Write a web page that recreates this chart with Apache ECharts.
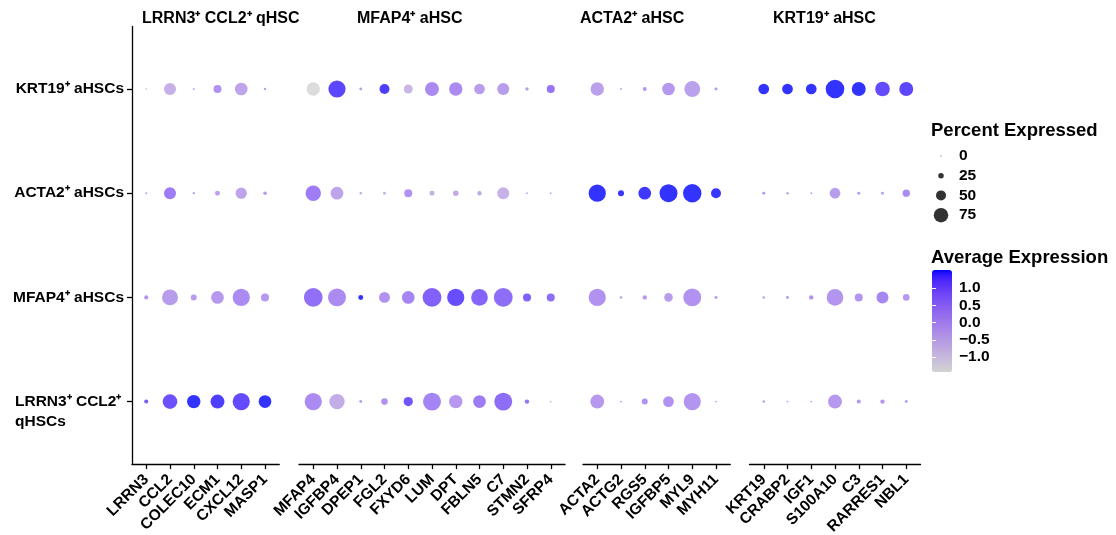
<!DOCTYPE html>
<html><head><meta charset="utf-8">
<script src="https://cdn.jsdelivr.net/npm/echarts@6/dist/echarts.min.js"></script>
<style>html,body{margin:0;padding:0;background:#fff}#c{width:1116px;height:535px}</style>
</head><body><div id="c"></div>
<script>
// ---------- DATA ----------
const panelTitles = ['LRRN3⁺ CCL2⁺ qHSC', 'MFAP4⁺ aHSC', 'ACTA2⁺ aHSC', 'KRT19⁺ aHSC'];
const genesQ = ['LRRN3', 'CCL2', 'COLEC10', 'ECM1', 'CXCL12', 'MASP1'];
const genesM = ['MFAP4', 'IGFBP4', 'DPEP1', 'FGL2', 'FXYD6', 'LUM', 'DPT', 'FBLN5', 'C7', 'STMN2', 'SFRP4'];
const genesA = ['ACTA2', 'ACTG2', 'RGS5', 'IGFBP5', 'MYL9', 'MYH11'];
const genesK = ['KRT19', 'CRABP2', 'IGF1', 'S100A10', 'C3', 'RARRES1', 'NBL1'];
// rows, bottom to top
const rowNames = ['LRRN3⁺ CCL2⁺ qHSCs', 'MFAP4⁺ aHSCs', 'ACTA2⁺ aHSCs', 'KRT19⁺ aHSCs'];
const sizeBreaks = ['0', '25', '50', '75'];
const colorBreaks = [-1.0, -0.5, 0.0, 0.5, 1.0];
const avgMin = -1.43, avgMax = 1.52;

// percent expressed, genes in order Q, M, A, K
const pctLRRN3 = [17, 76, 69, 72, 90, 65,  90, 80, 11, 31, 46, 94, 69, 65, 94, 19, 5,  72, 5, 28, 54, 90, 5,  8, 5, 5, 72, 17, 19, 11];
const pctMFAP4 = [17, 83, 28, 65, 90, 39,  98, 94, 22, 55, 65, 99, 90, 87, 99, 39, 39,  90, 8, 19, 42, 94, 11,  8, 11, 19, 87, 39, 61, 31];
const pctACTA2 = [5, 61, 7, 22, 57, 14,  80, 65, 8, 11, 39, 22, 25, 19, 61, 5, 5,  90, 28, 65, 94, 97, 50,  11, 8, 5, 54, 11, 11, 35];
const pctKRT19 = [3, 61, 5, 39, 65, 8,  69, 90, 11, 50, 44, 72, 69, 54, 61, 14, 39,  69, 5, 17, 65, 83, 11,  54, 54, 54, 98, 72, 76, 72];
// average expression (scaled)
const avgLRRN3 = [1.08, 1.23, 1.52, 1.43, 1.31, 1.52,  0.19, -0.49, -0.25, 0.05, 1.17, 0.34, -0.10, 0.49, 0.78, 0.64, -0.55,  -0.10, -0.10, 0.05, 0.05, -0.01, -0.25,  -0.10, -0.25, -0.25, -0.10, -0.10, -0.10, -0.25];
const avgMFAP4 = [0.05, -0.19, -0.19, -0.10, 0.19, -0.10,  0.72, 0.19, 1.52, 0.05, 0.34, 0.99, 1.28, 0.93, 0.78, 0.99, 0.78,  0.05, -0.10, -0.10, -0.19, 0.05, -0.10,  -0.10, -0.10, 0.05, -0.01, -0.01, 0.28, -0.10];
const avgACTA2 = [-0.10, 0.49, -0.10, -0.25, -0.31, -0.10,  0.49, -0.31, -0.40, -0.55, 0.05, -0.55, -0.40, -0.40, -0.60, -0.40, -0.40,  1.52, 1.50, 1.48, 1.52, 1.52, 1.50,  -0.10, -0.25, -0.25, -0.19, -0.10, -0.19, 0.19];
const avgKRT19 = [-0.25, -0.55, -0.25, 0.05, -0.31, -0.25,  -1.43, 1.37, -0.25, 1.43, -0.69, 0.19, 0.19, -0.19, -0.19, -0.25, 0.64,  -0.25, -0.25, -0.10, -0.10, -0.25, -0.10,  1.52, 1.52, 1.52, 1.52, 1.52, 1.31, 1.37];

// ---------- COLOR SCALE (Lab interpolation lightgrey -> blue, like ggplot) ----------
function hex2rgb(h){return [1,3,5].map(i=>parseInt(h.substr(i,2),16));}
function s2l(c){c/=255;return c<=0.04045?c/12.92:Math.pow((c+0.055)/1.055,2.4);}
function l2s(c){let v=c<=0.0031308?12.92*c:1.055*Math.pow(c,1/2.4)-0.055;return Math.round(Math.max(0,Math.min(1,v))*255);}
const WN=[0.95047,1,1.08883];
function rgb2lab(rgb){const [r,g,b]=rgb.map(s2l);
  const X=(0.4124564*r+0.3575761*g+0.1804375*b)/WN[0],Y=(0.2126729*r+0.7151522*g+0.0721750*b)/WN[1],Z=(0.0193339*r+0.1191920*g+0.9503041*b)/WN[2];
  const f=t=>t>0.008856?Math.cbrt(t):7.787*t+16/116;const fx=f(X),fy=f(Y),fz=f(Z);
  return [116*fy-16,500*(fx-fy),200*(fy-fz)];}
function lab2hex(lab){const fy=(lab[0]+16)/116,fx=fy+lab[1]/500,fz=fy-lab[2]/200;
  const fi=t=>t*t*t>0.008856?t*t*t:(t-16/116)/7.787;
  const X=fi(fx)*WN[0],Y=fi(fy)*WN[1],Z=fi(fz)*WN[2];
  const r=3.2404542*X-1.5371385*Y-0.4985314*Z,g=-0.9692660*X+1.8760108*Y+0.0415560*Z,b=0.0556434*X-0.2040259*Y+1.0572252*Z;
  return '#'+[r,g,b].map(l2s).map(v=>v.toString(16).padStart(2,'0')).join('');}
const labLo=rgb2lab(hex2rgb('#d3d3d3')),labHi=rgb2lab(hex2rgb('#0000ff'));
const colorStops=[];for(let i=0;i<=24;i++){const t=i/24;colorStops.push(lab2hex(labLo.map((v,k)=>v+(labHi[k]-v)*t)));}

// ---------- LAYOUT ----------
const FONT='Liberation Sans, Arial, Helvetica, sans-serif';
const panels=[genesQ,genesM,genesA,genesK];
const panelLeft=[132,299,583,749.5];
const unitX=23.75;
const gridTop=26.5, gridH=437.6;
const pctRows=[pctLRRN3,pctMFAP4,pctACTA2,pctKRT19];
const avgRows=[avgLRRN3,avgMFAP4,avgACTA2,avgKRT19];
const LBL=15.5;

const grids=[],xAxes=[],yAxes=[],series=[],titles=[];
let off=0;
panels.forEach((genes,p)=>{
  const n=genes.length;
  grids.push({left:panelLeft[p],top:gridTop,width:(n+0.2)*unitX,height:gridH,outerBoundsMode:'none',containLabel:false});
  const ticks=genes.map((g,i)=>i);
  xAxes.push({type:'value',gridIndex:p,min:-0.6,max:n-0.4,
    axisLine:{show:true,onZero:false,lineStyle:{color:'#000',width:1.3}},
    axisTick:{show:true,length:5,customValues:ticks,lineStyle:{color:'#000',width:1.3}},
    axisLabel:{customValues:ticks,rotate:45,margin:13,formatter:v=>genes[Math.round(v)],
      fontFamily:FONT,fontWeight:'bold',fontSize:LBL,color:'#000'},
    splitLine:{show:false}});
  yAxes.push({type:'value',gridIndex:p,min:-0.6,max:3.6,show:p===0,
    axisLine:{show:true,onZero:false,lineStyle:{color:'#000',width:1.3}},
    axisTick:{show:true,length:5,customValues:[0,1,2,3],lineStyle:{color:'#000',width:1.3}},
    axisLabel:{customValues:[0,1,2,3],margin:8,fontFamily:FONT,fontWeight:'bold',fontSize:LBL,color:'#000',
      formatter:v=>{const r=Math.round(v);if(r===0){return '{b| }\n{b|LRRN3⁺ CCL2⁺}\n{b|qHSCs}';}return rowNames[r];},
      rich:{b:{width:109,align:'left',fontFamily:FONT,fontWeight:'bold',fontSize:LBL,color:'#000',lineHeight:20}}},
    splitLine:{show:false}});
  const data=[];
  for(let r=0;r<4;r++){for(let i=0;i<n;i++){data.push([i,r,pctRows[r][off+i],avgRows[r][off+i]]);}}
  series.push({type:'scatter',xAxisIndex:p,yAxisIndex:p,symbol:'circle',data:data,silent:true});
  titles.push({text:panelTitles[p],left:[142,357,580,773][p],top:11,padding:0,
    textStyle:{fontFamily:FONT,fontWeight:'bold',fontSize:16,color:'#000'}});
  off+=n;
});

// size legend grid
grids.push({left:932,top:146,width:18,height:79,outerBoundsMode:'none',containLabel:false});
xAxes.push({type:'value',gridIndex:4,min:-1,max:1,show:false});
yAxes.push({type:'category',gridIndex:4,data:sizeBreaks,inverse:true,position:'right',
  axisLine:{show:false},axisTick:{show:false},
  axisLabel:{interval:0,margin:9,fontFamily:FONT,fontWeight:'bold',fontSize:LBL,color:'#000'}});
series.push({type:'scatter',xAxisIndex:4,yAxisIndex:4,symbol:'circle',silent:true,itemStyle:{color:'#000'},
  data:sizeBreaks.map((s,i)=>[0,i,Number(s)])});

// colorbar axis grid
grids.push({left:932,top:270,width:20,height:102,outerBoundsMode:'none',containLabel:false});
xAxes.push({type:'value',gridIndex:5,min:0,max:1,show:false});
yAxes.push({type:'value',gridIndex:5,min:avgMin,max:avgMax,position:'right',z:20,
  axisLine:{show:false},splitLine:{show:false},
  axisTick:{show:true,inside:true,length:4,customValues:colorBreaks,lineStyle:{color:'#fff',width:1}},
  axisLabel:{customValues:colorBreaks,margin:7,fontFamily:FONT,fontWeight:'bold',fontSize:LBL,color:'#000',
    formatter:v=>(v<0?'\u2212':'')+Math.abs(v).toFixed(1)}});
yAxes.push({type:'value',gridIndex:5,min:avgMin,max:avgMax,position:'left',z:20,
  axisLine:{show:false},splitLine:{show:false},axisLabel:{show:false},
  axisTick:{show:true,inside:true,length:4,customValues:colorBreaks,lineStyle:{color:'#fff',width:1}}});

titles.push({text:'Percent Expressed',left:931,top:121,padding:0,textStyle:{fontFamily:FONT,fontWeight:'bold',fontSize:18.5,color:'#000'}});
titles.push({text:'Average Expression',left:931,top:248,padding:0,textStyle:{fontFamily:FONT,fontWeight:'bold',fontSize:18.5,color:'#000'}});

const chart=echarts.init(document.getElementById('c'),null,{renderer:'canvas'});
chart.setOption({
  animation:false,
  backgroundColor:'#fff',
  title:titles,
  grid:grids,xAxis:xAxes,yAxis:yAxes,
  visualMap:[
    {type:'continuous',show:false,dimension:2,min:0,max:100,seriesIndex:[0,1,2,3,4],inRange:{symbolSize:[1,19]}},
    {type:'continuous',show:true,dimension:3,min:avgMin,max:avgMax,seriesIndex:[0,1,2,3],calculable:false,
      left:932,top:270,itemWidth:20,itemHeight:102,padding:0,inRange:{color:colorStops}}
  ],
  series:series
});
</script></body></html>
